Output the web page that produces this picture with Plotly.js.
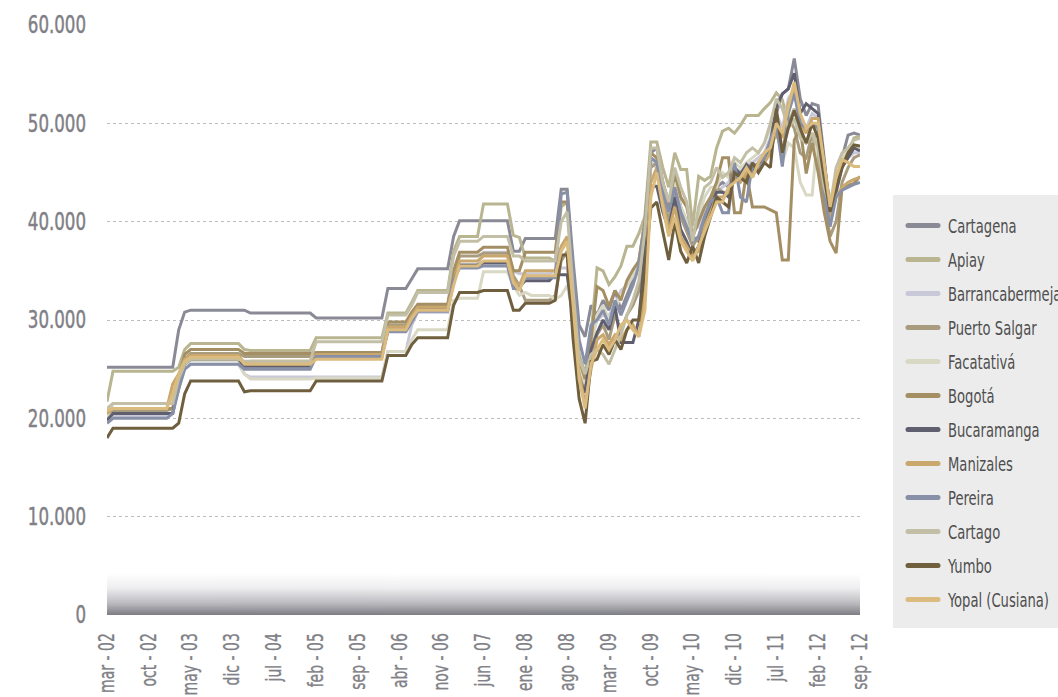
<!DOCTYPE html>
<html>
<head>
<meta charset="utf-8">
<script src="https://cdn.plot.ly/plotly-3.0.1.min.js"></script>
<style>
  html, body { margin: 0; padding: 0; background: #ffffff; overflow: hidden; }
  #chart { width: 1058px; height: 697px; }
</style>
</head>
<body>
<div id="chart"></div>
<script>
// Monthly series, mar-02 .. sep-12 (127 months)
const tickLabels = ["mar - 02","oct - 02","may - 03","dic - 03","jul - 04","feb - 05","sep - 05","abr - 06","nov - 06","jun - 07","ene - 08","ago - 08","mar - 09","oct - 09","may - 10","dic - 10","jul - 11","feb - 12","sep - 12"];
const seriesNames = ["Cartagena","Apiay","Barrancabermeja","Puerto Salgar","Facatativá","Bogotá","Bucaramanga","Manizales","Pereira","Cartago","Yumbo","Yopal (Cusiana)"];

const cartagena = [25200,25200,25200,25200,25200,25200,25200,25200,25200,25200,
25200,25200,29000,30800,31000,31000,31000,31000,31000,31000,
31000,31000,31000,31000,30700,30700,30700,30700,30700,30700,
30700,30700,30700,30700,30700,30200,30200,30200,30200,30200,
30200,30200,30200,30200,30200,30200,30200,33200,33200,33200,
33200,34200,35200,35200,35200,35200,35200,35200,38500,40100,
40100,40100,40100,40100,40100,40100,40100,40100,37000,37000,
38300,38300,38300,38300,38300,38300,43300,43300,36000,29500,
28300,31500,30500,32000,31000,33000,31000,32500,34000,36000,
40000,47000,47500,44000,42000,44500,41500,40000,38500,38000,
40000,42000,43500,44000,43500,45500,45000,45500,46000,45500,
47000,48000,51000,53000,53500,56600,52500,50800,52000,51800,
46500,40500,43500,46500,48800,49000,48800];

const apiay = [21700,24800,24800,24800,24800,24800,24800,24800,24800,24800,
24800,24800,25200,27000,27600,27600,27600,27600,27600,27600,
27600,27600,27600,27000,26900,26900,26900,26900,26900,26900,
26900,26900,26900,26900,26900,28200,28200,28200,28200,28200,
28200,28200,28200,28200,28200,28200,28200,30700,30700,30700,
30700,31800,33000,33000,33000,33000,33000,33000,37000,38500,
38500,38500,38500,41800,41800,41800,41800,41800,38600,38400,
36300,36300,36300,36300,36300,36000,41500,42000,34000,26500,
24500,28500,35300,35000,33600,34400,35500,37500,37500,38800,
40500,48100,48100,45500,43500,47000,45300,45300,39500,44600,
44200,44600,47500,49200,49500,49000,49800,50800,50800,50800,
51500,52100,53100,52400,50000,51500,49000,48000,48500,46500,
42500,40500,44000,46500,47000,48500,48700];

const barrancabermeja = [19800,20200,20200,20200,20200,20200,20200,20200,20200,20200,
20200,20500,23000,25000,25500,25500,25500,25500,25500,25500,
25500,25500,25500,24500,24200,24200,24200,24200,24200,24200,
24200,24200,24200,24200,24200,24200,24200,24200,24200,24200,
24200,24200,24200,24200,24200,24200,24200,26800,26800,26800,
26800,29500,30800,30800,30800,30800,30800,30800,34000,35500,
35500,35500,35500,36900,36900,36900,36900,36900,35000,34700,
34700,34700,34700,34700,34700,35000,35300,35300,30500,26000,
24000,28000,30000,30500,30500,31500,33000,33500,34500,36000,
40000,46000,45500,42500,40500,43000,41000,40000,39000,39500,
41000,42500,43000,43500,44000,45500,45000,46000,46000,46500,
47000,48500,51000,49500,52500,53500,50500,49500,51000,50500,
45500,40000,44000,46000,46500,47000,47000];

const puertoSalgar = [20300,20800,20800,20800,20800,20800,20800,20800,20800,20800,
20800,21000,23000,26000,26600,26600,26600,26600,26600,26600,
26600,26600,26600,26300,26300,26300,26300,26300,26300,26300,
26300,26300,26300,26300,26300,26600,26600,26600,26600,26600,
26600,26600,26600,26600,26600,26600,26600,29500,29500,29500,
29500,30500,31400,31400,31400,31400,31400,31400,34500,36500,
36500,36500,36500,36800,36800,36800,36800,36800,34500,33500,
32000,32000,32000,32000,32000,32500,36000,37000,31000,25000,
23000,26500,28500,29500,28000,30500,29000,30500,31500,33000,
38000,45500,46000,42500,40000,43500,40500,39000,37500,38500,
40500,42000,43500,43000,43000,45000,45000,45500,44500,46000,
46500,47500,49000,47000,50500,49500,47000,46500,49000,48000,
42000,38500,40000,44000,45500,46500,46800];

const facatativa = [20000,21500,21500,21500,21500,21500,21500,21500,21500,21500,
21500,22000,24000,25500,25900,25900,25900,25900,25900,25900,
25900,25900,25900,24500,24000,24000,24000,24000,24000,24000,
24000,24000,24000,24000,24000,24100,24100,24100,24100,24100,
24100,24100,24100,24100,24100,24100,24100,26800,26800,26800,
26800,28000,29000,29000,29000,29000,29000,29000,32000,32200,
32200,32200,32200,34900,34900,34900,34900,34900,33500,32500,
32800,32500,32500,32500,32500,32100,32500,33500,30500,25500,
23500,27000,30500,31500,30000,31000,32500,33500,34500,35500,
39500,46000,46500,43500,41000,44000,41500,40000,39000,40500,
42500,43500,43500,45000,44500,46000,45500,46000,46500,47000,
48000,49500,50500,46000,48000,47500,44000,42700,42700,49700,
44500,42500,43500,46500,47500,47500,47500];

const bogota = [20500,21000,21000,21000,21000,21000,21000,21000,21000,21000,
21000,21000,24000,26500,27000,27000,27000,27000,27000,27000,
27000,27000,27000,26600,26600,26600,26600,26600,26600,26600,
26600,26600,26600,26600,26600,26700,26700,26700,26700,26700,
26700,26700,26700,26700,26700,26700,26700,29800,29800,29800,
29800,30800,31600,31600,31600,31600,31600,31600,35000,36900,
36900,36900,36900,37400,37400,37400,37400,37400,35000,35000,
36900,36900,36900,36900,36900,36900,42000,42000,34000,26000,
24000,28000,33400,33000,31400,33000,32000,34000,35100,36000,
40000,47000,46500,44000,41500,45000,42500,41500,38500,40000,
41500,42500,44000,46500,46500,40900,40900,45000,41500,41500,
41500,41200,40900,36100,36100,48300,49500,44900,48000,45000,
41000,38000,36800,43500,43700,43900,44600];

const bucaramanga = [19800,20500,20500,20500,20500,20500,20500,20500,20500,20500,
20500,20500,23500,25500,26000,26000,26000,26000,26000,26000,
26000,26000,26000,25300,25300,25300,25300,25300,25300,25300,
25300,25300,25300,25300,25300,26400,26400,26400,26400,26400,
26400,26400,26400,26400,26400,26400,26400,29000,29000,29000,
29000,30000,31100,31100,31100,31100,31100,31100,34000,35600,
35600,35600,35600,35800,35800,35800,35800,35800,33400,33400,
34000,34000,34000,34000,34000,34600,34600,34600,30000,24000,
22600,27000,28700,30000,29000,31400,27700,27700,27700,30000,
37000,43600,43600,41000,39200,42500,39200,38000,36500,37500,
39500,41500,43000,43000,42500,45500,44800,45800,45000,46000,
46500,48000,51700,53000,53500,55100,51000,52000,51500,51000,
46000,41500,43000,45500,46500,47500,47200];

const manizales = [20500,21000,21000,21000,21000,21000,21000,21000,21000,21000,
21000,23500,24500,26000,26400,26400,26400,26400,26400,26400,
26400,26400,26400,25600,25800,25800,25800,25800,25800,25800,
25800,25800,25800,25800,25800,26500,26500,26500,26500,26500,
26500,26500,26500,26500,26500,26500,26500,29300,29300,29300,
29300,30400,31300,31300,31300,31300,31300,31300,34000,36000,
36000,36000,36000,36500,36500,36500,36500,36500,34000,33500,
35000,35000,35000,35000,35000,35000,37500,38500,32000,24500,
21500,25000,28000,28500,27500,28500,28000,29000,29500,28300,
33000,44000,45500,42000,39000,41500,38500,37500,36500,37000,
39500,41000,42500,42500,43000,44500,44000,45000,44800,45500,
46000,47000,49500,48500,52000,53500,50000,49000,50500,50500,
45500,40500,42500,43500,44000,44300,44500];

const pereira = [19500,20000,20000,20000,20000,20000,20000,20000,20000,20000,
20000,20500,23000,25000,25500,25500,25500,25500,25500,25500,
25500,25500,25500,25000,25000,25000,25000,25000,25000,25000,
25000,25000,25000,25000,25000,26300,26300,26300,26300,26300,
26300,26300,26300,26300,26300,26300,26300,28800,28800,28800,
28800,29800,30900,30900,30900,30900,30900,30900,34000,35300,
35300,35300,35300,35500,35500,35500,35500,35500,33200,33200,
34300,34300,34300,34300,34300,34300,42800,43000,35000,28000,
25500,29500,30000,31000,29500,32000,30500,32000,33500,35500,
39500,46500,46000,43000,41000,43500,41000,39500,38000,38500,
40500,42000,42500,40900,40900,46000,42500,42000,45800,45000,
46500,48300,50000,45600,51000,53000,50000,49500,50000,49500,
43000,39500,42500,43200,43500,43800,44000];

const cartago = [21000,21500,21500,21500,21500,21500,21500,21500,21500,21500,
21500,21500,24000,25500,26000,26000,26000,26000,26000,26000,
26000,26000,26000,25800,25800,25800,25800,25800,25800,25800,
25800,25800,25800,25800,25800,27800,27800,27800,27800,27800,
27800,27800,27800,27800,27800,27800,27800,30500,30500,30500,
30500,31500,32800,32800,32800,32800,32800,32800,36500,38000,
38000,38000,38000,38500,38500,38500,38500,38500,36500,36500,
36000,36000,36000,36000,36000,36000,40000,41000,33000,26000,
24500,26500,27000,26500,25500,27000,28500,30500,32000,34000,
39000,47500,47500,44000,42000,45500,43500,42000,38000,41500,
43500,44000,45500,44500,45000,46500,46000,47000,47500,47000,
48000,50000,52500,51500,49500,50500,48500,48000,49000,47500,
43500,41500,45500,47000,47500,48300,48500];

const yumbo = [18000,19000,19000,19000,19000,19000,19000,19000,19000,19000,
19000,19000,19500,22500,23800,23800,23800,23800,23800,23800,
23800,23800,23800,22700,22800,22800,22800,22800,22800,22800,
22800,22800,22800,22800,22800,23800,23800,23800,23800,23800,
23800,23800,23800,23800,23800,23800,23800,26400,26400,26400,
26400,27500,28200,28200,28200,28200,28200,28200,31500,32800,
32800,32800,32800,33000,33000,33000,33000,33000,31000,31000,
31700,31700,31700,31700,31700,32000,36600,36600,28000,22000,
19500,25800,26000,27500,26500,28000,27000,29000,30000,30000,
35000,41400,42000,39000,36100,40000,37000,35800,37500,35800,
38500,40500,42500,42000,41500,45000,44500,44000,46000,45000,
46000,45500,51500,47000,49500,51300,49500,48000,50000,48500,
44500,41000,43500,45500,47000,47800,47700];

const yopal = [20800,21000,21000,21000,21000,21000,21000,21000,21000,21000,
21000,22500,24500,25800,26200,26200,26200,26200,26200,26200,
26200,26200,26200,25500,25500,25500,25500,25500,25500,25500,
25500,25500,25500,25500,25500,26000,26000,26000,26000,26000,
26000,26000,26000,26000,26000,26000,26000,29000,29000,29000,
29000,30200,31000,31000,31000,31000,31000,31000,33500,35500,
35500,35500,35500,36000,36000,36000,36000,36000,33800,33000,
34500,34500,34500,34500,34500,34500,37000,38000,31500,24000,
21000,25500,27000,28000,27000,28000,29500,30000,29000,28300,
31000,42500,45000,41500,38500,40500,38000,37000,36000,37500,
39000,40500,42000,42000,43500,44000,44500,45500,44500,46000,
47000,47500,50000,49000,51500,54200,51000,49500,50000,50000,
46000,41500,44500,46300,46000,45600,45600];

const seriesValues = [cartagena, apiay, barrancabermeja, puertoSalgar, facatativa, bogota,
                      bucaramanga, manizales, pereira, cartago, yumbo, yopal];
const seriesColors = ["#8a8a96","#b8b590","#c9c8d8","#a99b7d","#d8d8c4","#a48e63",
                      "#5f5f6f","#c9a76d","#8890a8","#c2bfa6","#6f5f3e","#dcbc7e"];

const N = cartagena.length;
seriesValues.forEach((s, k) => { if (s.length !== N) throw new Error(seriesNames[k] + " length " + s.length); });
const xIdx = cartagena.map((_, i) => i);
const tickVals = tickLabels.map((_, j) => j * 7);

const FONT = "'Liberation Sans Narrow', 'DejaVu Sans Condensed', 'Roboto Condensed', 'DejaVu Sans', sans-serif";
const TICKCOL = '#808086';

const traces = seriesNames.map((name, k) => ({
  type: 'scatter', mode: 'lines', name: name,
  x: xIdx, y: seriesValues[k],
  line: { color: seriesColors[k], width: 3 },
  legendgroup: 'g' + k,
  hoverinfo: 'skip'
}));

// smooth grey gradient for the band at the bottom of the plot (styling)
const cv = document.createElement('canvas');
cv.width = 4; cv.height = 120;
const cx = cv.getContext('2d');
const grad = cx.createLinearGradient(0, 0, 0, 120);
grad.addColorStop(0.0, 'rgba(255,255,255,1)');
grad.addColorStop(0.35, 'rgb(238,238,240)');
grad.addColorStop(0.7, 'rgb(190,190,194)');
grad.addColorStop(1.0, 'rgb(125,125,132)');
cx.fillStyle = grad; cx.fillRect(0, 0, 4, 120);
const bandSrc = cv.toDataURL('image/png');

const plotL = 107, plotR = 860, plotT = 25, plotB = 615;
const px2paperX = p => (p - plotL) / (plotR - plotL);
const px2paperY = p => (plotB - p) / (plotB - plotT);

const layout = {
  width: 1058, height: 697,
  margin: { l: plotL, r: 1058 - plotR, t: plotT, b: 697 - plotB, autoexpand: false },
  paper_bgcolor: '#ffffff', plot_bgcolor: 'rgba(0,0,0,0)',
  separators: ',.',
  font: { family: FONT, color: TICKCOL },
  showlegend: true,
  legend: {
    x: px2paperX(893), xanchor: 'left', y: px2paperY(206), yanchor: 'top',
    bgcolor: 'rgba(0,0,0,0)', borderwidth: 0,
    font: { family: FONT, size: 20, color: '#4e4e4e' },
    tracegroupgap: 5, indentation: 10
  },
  xaxis: {
    range: [0, N - 1], tickmode: 'array', tickvals: tickVals, ticktext: tickLabels,
    tickangle: -90, showgrid: false, zeroline: false, showline: false, ticks: '',
    tickfont: { family: FONT, size: 21, color: TICKCOL }, ticklabelstandoff: 13,
    fixedrange: true
  },
  yaxis: {
    range: [0, 60000], tickmode: 'array', tickvals: [0,10000,20000,30000,40000,50000,60000],
    tickformat: ',d', showgrid: true, gridcolor: '#bdbdbd', griddash: 'dot', gridwidth: 1,
    zeroline: false, showline: false, ticks: '',
    tickfont: { family: FONT, size: 24, color: TICKCOL }, ticklabelstandoff: 20,
    fixedrange: true
  },
  images: [{
    source: bandSrc, xref: 'paper', yref: 'y', x: 0, y: 4200, sizex: 1, sizey: 4200,
    sizing: 'stretch', xanchor: 'left', yanchor: 'top', layer: 'below'
  }],
  shapes: [{
    type: 'rect', xref: 'paper', yref: 'paper', layer: 'below',
    x0: px2paperX(893), x1: px2paperX(1080), y0: px2paperY(628), y1: px2paperY(195),
    fillcolor: '#ececec', line: { width: 0 }
  }]
};

Plotly.newPlot('chart', traces, layout, { displayModeBar: false, staticPlot: true }).then(gd => {
  // condense text horizontally to mimic the narrow typeface of the original
  const squeeze = (sel, f, heavy) => gd.querySelectorAll(sel).forEach(t => {
    const L = t.getComputedTextLength();
    if (L > 0) { t.setAttribute('textLength', (L * f).toFixed(1)); t.setAttribute('lengthAdjust', 'spacingAndGlyphs'); }
    if (heavy) { t.style.stroke = t.style.fill || TICKCOL; t.style.strokeWidth = heavy + 'px'; }
  });
  squeeze('.xtick text', 0.74, 0.35);
  squeeze('.ytick text', 0.77, 0.45);
  squeeze('.legendtext', 0.73, 0);
  gd.querySelectorAll('.legendtext').forEach(t => {
    const x = parseFloat(t.getAttribute('x') || '0');
    t.setAttribute('x', (x + 5).toString());
  });
  gd.querySelectorAll('.legendlines path').forEach(p => {
    p.style.strokeWidth = '5px'; p.style.strokeLinecap = 'round';
  });
});
</script>
</body>
</html>
